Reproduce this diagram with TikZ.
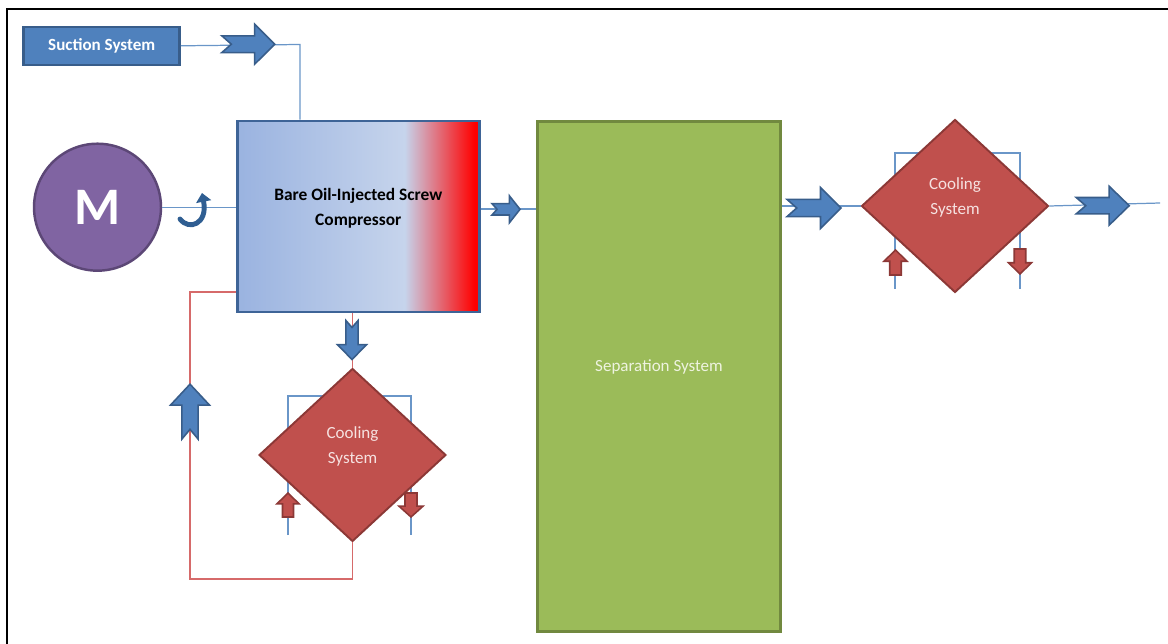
\documentclass[tikz,border=0pt]{standalone}
\usepackage{fontspec}
\setmainfont{Carlito}
\usetikzlibrary{shapes.geometric,arrows.meta,backgrounds}

\definecolor{boxblue}{HTML}{4F81BD}
\definecolor{boxblueline}{HTML}{385D8A}
\definecolor{compline}{HTML}{3E6497}
\definecolor{compleft}{HTML}{9AB3E0}
\definecolor{compmid}{HTML}{C6D4EC}
\definecolor{sepgreen}{HTML}{9BBB59}
\definecolor{sepline}{HTML}{71893F}
\definecolor{seppale}{HTML}{EEF3E0}
\definecolor{motpurple}{HTML}{8064A2}
\definecolor{motline}{HTML}{5C4776}
\definecolor{coolred}{HTML}{C0504D}
\definecolor{coolline}{HTML}{8C3836}
\definecolor{coolpink}{HTML}{F6E2E1}
\definecolor{pipered}{HTML}{D66A6A}
\definecolor{pipeblue}{HTML}{6A96C8}
\definecolor{hookblue}{HTML}{2F5E92}

\pgfdeclarehorizontalshading{compshade}{100bp}{color(0bp)=(compleft); color(25bp)=(compleft); color(59.6bp)=(compmid); color(74bp)=(red); color(100bp)=(red)}

\begin{document}
\begin{tikzpicture}[x=0.02cm,y=-0.02cm,
        font=\fontsize{9.7}{14.2}\selectfont,
        suctbox/.style={draw=boxblueline,fill=boxblue,line width=1.4pt,minimum width=3.12cm,minimum height=0.76cm,text=white,font=\fontsize{9.7}{14.2}\selectfont\bfseries},
        motor/.style={circle,draw=motline,fill=motpurple,line width=1.4pt,minimum size=2.54cm,text=white,font=\fontsize{30}{36}\selectfont\bfseries},
        compbox/.style={draw=compline,shading=compshade,line width=1.4pt,minimum width=4.84cm,minimum height=3.82cm},
        sepbox/.style={draw=sepline,fill=sepgreen,line width=1.6pt,minimum width=4.86cm,minimum height=10.2cm},
        coolbox/.style={diamond,draw=coolline,fill=coolred,line width=1.1pt,minimum width=3.74cm,minimum height=3.46cm,inner sep=0pt},
        comptext/.style={align=center,font=\fontsize{9.9}{14.4}\selectfont\bfseries},
        cooltext/.style={align=center,text=coolpink},
        septext/.style={text=seppale},
        bluepipe/.style={draw=pipeblue,line width=0.7pt},
        redpipe/.style={draw=pipered,line width=0.7pt},
        bluearrow/.style={fill=boxblue,draw=boxblueline,line width=0.9pt},
        redarrow/.style={fill=coolred,draw=coolline,line width=0.9pt},
        pics/notcharrow/.style 2 args={code={
          \path[pic actions] (-0.5*#1,-0.21*#2) -- (0.12*#1,-0.21*#2) -- (0.12*#1,-0.5*#2) -- (0.5*#1,0)
            -- (0.12*#1,0.5*#2) -- (0.12*#1,0.21*#2) -- (-0.5*#1,0.21*#2) -- (-0.32*#1,0) -- cycle;
        }},
        pics/plainarrow/.style 2 args={code={
          \path[pic actions] (-0.5*#1,-0.25*#2) -- (0.05*#1,-0.25*#2) -- (0.05*#1,-0.5*#2) -- (0.5*#1,0)
            -- (0.05*#1,0.5*#2) -- (0.05*#1,0.25*#2) -- (-0.5*#1,0.25*#2) -- cycle;
        }}]
      \useasboundingbox (0,0) rectangle (1168,644);
      \draw[line width=1.5pt] (7,644) -- (7,9) -- (1168,9);
      \draw
        (101.7,45.8) node[suctbox] (suct){Suction System}
        (97.5,207.2) node[motor] (mot){M}
        (358.3,216.3) node[compbox,label={[comptext,yshift=4.6pt]center:Bare Oil-Injected Screw\\Compressor}] (comp){}
        (659,376.4) node[sepbox,label={[septext,yshift=5.5pt]center:Separation System}] (sep){}
        (352.5,455) node[coolbox,label={[cooltext,yshift=4.8pt]center:Cooling\\System}] (cool1){}
        (955,206) node[coolbox,label={[cooltext,yshift=4.6pt]center:Cooling\\System}] (cool2){};
      \coordinate (suctbend) at (300,44.5);
      \coordinate (looptop) at (190,292);
      \coordinate (loopbot) at (190,579);
      \coordinate (outend) at (1160,203);
      % loops behind the coolers
      \begin{scope}[on background layer]
        \draw[bluepipe] (288,535) -- (288,396) -- (411,396) -- (411,535);
        \draw[bluepipe] (895,289) -- (895,153) -- (1020,153) -- (1020,289);
      \end{scope}
      \begin{scope}[bluepipe]
        \draw (suct.east) -- (suctbend) -- (suctbend |- comp.north);
        \draw (mot) -- (comp.west |- mot.east);
        \draw (comp.east |- 0,209) -- (sep.west |- 0,209);
        \draw (sep.east |- cool2) -- (cool2);
        \draw (cool2.east) -- (outend);
      \end{scope}
      \begin{scope}[redpipe]
        \draw (comp.south -| cool1.north) -- (cool1.north);
        \draw (comp.west |- looptop) -- (looptop) -- (loopbot) -- (cool1.south |- loopbot) -- (cool1.south);
      \end{scope}
      \draw[hookblue,line width=2.8pt,line cap=round,-{Triangle[length=5pt,width=8.5pt]}]
        (180,219) .. controls (189,231) and (208,224) .. (202,193);
      \pic[bluearrow] at (248.3,44.2) {notcharrow={53}{40}};
      \pic[bluearrow,rotate=-90] at (352,340) {notcharrow={39}{29}};
      \pic[bluearrow,rotate=90] at (190,411.7) {notcharrow={55}{39}};
      \pic[bluearrow] at (506,209.3) {notcharrow={28}{27}};
      \pic[bluearrow] at (814,208) {notcharrow={54}{41}};
      \pic[bluearrow] at (1102.7,205.7) {notcharrow={53}{39}};
      \pic[redarrow,rotate=90] at (288,505) {plainarrow={24}{22}};
      \pic[redarrow,rotate=-90] at (411,505) {plainarrow={24}{24}};
      \pic[redarrow,rotate=90] at (895.5,262.5) {plainarrow={25}{23}};
      \pic[redarrow,rotate=-90] at (1020,261.5) {plainarrow={25}{23}};
    \end{tikzpicture}
\end{document}
